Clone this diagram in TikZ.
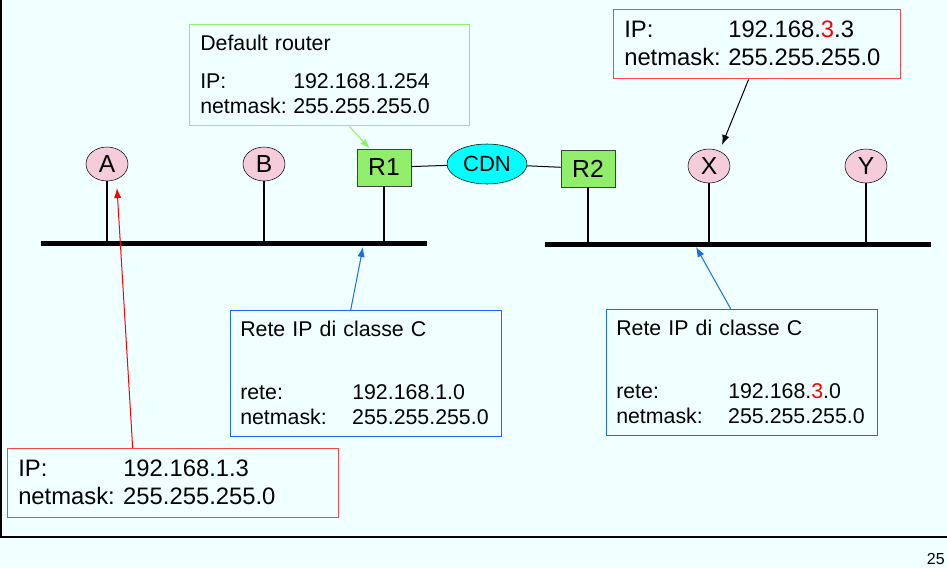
\documentclass[tikz,border=0pt]{standalone}
\usepackage{fontspec}
\setmainfont{Liberation Sans}
\usetikzlibrary{shapes, arrows.meta, calc}

\definecolor{bgazure}{RGB}{240,255,255}
\definecolor{hostpink}{RGB}{244,204,218}
\definecolor{routergreen}{RGB}{144,238,106}
\definecolor{cdncyan}{RGB}{0,255,255}
\definecolor{notegreen}{RGB}{144,238,110}
\definecolor{notered}{RGB}{255,70,70}
\definecolor{noteblue}{RGB}{25,110,230}

\newcommand{\ipfield}[2]{\makebox[#1][l]{#2}}

\tikzset{
	host/.style={ellipse, draw=black, fill=hostpink, minimum width=31.5pt, minimum height=25.5pt, inner sep=0pt, font=\fontsize{18.5}{20}\selectfont},
	router/.style={rectangle, draw=black!75, fill=routergreen, minimum width=40.5pt, minimum height=27.75pt, inner sep=0pt, font=\fontsize{18.5}{20}\selectfont},
	cdn/.style={ellipse, draw=black, fill=cdncyan, minimum width=60pt, minimum height=30pt, inner sep=0pt, font=\fontsize{16.5}{19}\selectfont},
	bus/.style={line width=3.75pt},
	stem/.style={line width=1.5pt},
	link/.style={line width=0.75pt},
	notebox/.style={rectangle, draw=#1, line width=1.1pt, anchor=north west, inner sep=0pt},
	bignote/.style={anchor=base west, inner sep=0pt, text width=230pt, align=left, font=\fontsize{17.85}{21}\selectfont},
	smallnote/.style={anchor=base west, inner sep=0pt, text width=230pt, align=left, font=\fontsize{16}{19}\selectfont},
	pointer/.style={-{Latex[length=7.5pt,width=5.5pt]}, line width=0.75pt},
}

\begin{document}
\begin{tikzpicture}[x=0.75pt, y=-0.75pt]
	% page
	\fill[bgazure] (0,0) rectangle (947,568);
	\useasboundingbox (0,0) rectangle (947,568);
	\draw[line width=1.5pt] (1,0) -- (1,536.5);
	\draw[line width=1.5pt] (0,536.5) -- (947,536.5);
	\node[anchor=base east, inner sep=0pt, font=\fontsize{12}{14}\selectfont] (pageno) at (945,564) {25};

	% the two LANs
	\coordinate (busL1) at (41,243);
	\coordinate (busL2) at (427,243);
	\coordinate (busR1) at (545,244);
	\coordinate (busR2) at (931,244);
	\draw[bus] (busL1) -- (busL2);
	\draw[bus] (busR1) -- (busR2);

	% hosts and routers
	\node[host] (A) at (107,164) {A};
	\node[host] (B) at (264,164) {B};
	\node[router] (R1) at (384,167.5) {R1};
	\node[cdn] (CDN) at (487,164) {CDN};
	\node[router] (R2) at (588,168.5) {R2};
	\node[host] (X) at (709,166) {X};
	\node[host] (Y) at (866,166) {Y};

	\draw[stem] (A) -- (A |- busL1);
	\draw[stem] (B) -- (B |- busL1);
	\draw[stem] (R1) -- (R1 |- busL1);
	\draw[stem] (R2) -- (R2 |- busR1);
	\draw[stem] (X) -- (X |- busR1);
	\draw[stem] (Y) -- (Y |- busR1);
	\draw[link] (R1) -- (CDN);
	\draw[link] (CDN) -- (R2);

	% notes
	\node[notebox=notegreen, minimum width=210pt, minimum height=75.75pt] (gbox) at (189,24) {};
	\node[smallnote] (gtext) at (200,50) {Default router\\[9.7pt]
		\ipfield{69.75pt}{IP:}192.168.1.254\\
		\ipfield{69.75pt}{netmask:}255.255.255.0};

	\node[notebox=notered, minimum width=215.25pt, minimum height=51.75pt] (xbox) at (613,9) {};
	\node[bignote] (xtext) at (624,37.7) {\ipfield{78pt}{IP:}192.168.\textcolor{red}{3}.3\\
		\ipfield{78pt}{netmask:}255.255.255.0};

	\node[notebox=notered, minimum width=248.25pt, minimum height=51.75pt] (abox) at (7,448) {};
	\node[bignote] (atext) at (18,476.7) {\ipfield{78.75pt}{IP:}192.168.1.3\\
		\ipfield{78.75pt}{netmask:}255.255.255.0};

	\node[notebox=noteblue, minimum width=203.25pt, minimum height=94.5pt] (lbox) at (230,310) {};
	\node[smallnote] (ltext) at (240,336) {Rete IP di classe C\\[28.5pt]
		\ipfield{84pt}{rete:}192.168.1.0\\
		\ipfield{84pt}{netmask:}255.255.255.0};

	\node[notebox=noteblue, minimum width=203.25pt, minimum height=94.5pt] (rbox) at (606,309) {};
	\node[smallnote] (rtext) at (616,335) {Rete IP di classe C\\[28.5pt]
		\ipfield{84pt}{rete:}192.168.\textcolor{red}{3}.0\\
		\ipfield{84pt}{netmask:}255.255.255.0};

	% pointers
	\coordinate (atip) at (117,188);
	\coordinate (xtip) at (722,145);
	\coordinate (ltip) at (363,247);
	\coordinate (rtip) at (696,247);
	\draw[pointer, notegreen] ($(gbox.south west)!0.57!(gbox.south east)$) -- ($(R1.north west)!0.24!(R1.north east)$);
	\draw[pointer, black] ($(xbox.south west)!0.47!(xbox.south east)$) -- (xtip);
	\draw[pointer, red] ($(abox.north west)!0.378!(abox.north east)$) -- (atip);
	\draw[pointer, noteblue] ($(lbox.north west)!0.443!(lbox.north east)$) -- (ltip);
	\draw[pointer, noteblue] ($(rbox.north west)!0.458!(rbox.north east)$) -- (rtip);
\end{tikzpicture}
\end{document}
